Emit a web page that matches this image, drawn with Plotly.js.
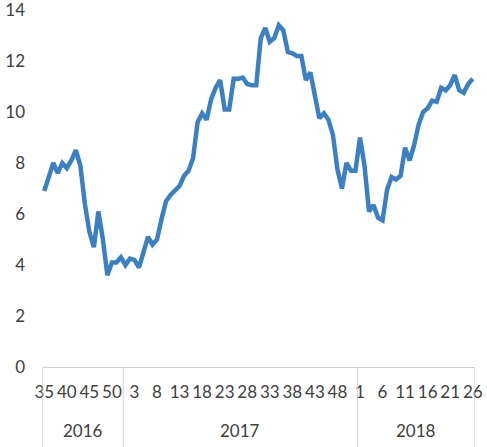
<!DOCTYPE html>
<html>
<head>
<meta charset="utf-8">
<script src="https://cdn.plot.ly/plotly-3.0.1.min.js"></script>
<style>html,body{margin:0;padding:0;background:#fff;}#chart{width:487px;height:447px;}</style>
</head>
<body>
<div id="chart"></div>
<script>
var years = ["2016", "2017", "2018"];
var weeks2016 = [35,36,37,38,39,40,41,42,43,44,45,46,47,48,49,50,51,52];
var values2016 = [6.9,7.5,8.0,7.6,8.0,7.8,8.1,8.5,7.9,6.4,5.3,4.7,6.1,5.0,3.6,4.1,4.1,4.3];
var weeks2017 = [1,2,3,4,5,6,7,8,9,10,11,12,13,14,15,16,17,18,19,20,21,22,23,24,25,26,27,28,29,30,31,32,33,34,35,36,37,38,39,40,41,42,43,44,45,46,47,48,49,50,51,52];
var values2017 = [4.0,4.25,4.2,3.9,4.5,5.1,4.8,5.0,5.8,6.5,6.75,6.95,7.1,7.5,7.7,8.2,9.6,9.95,9.7,10.5,10.95,11.25,10.1,10.1,11.3,11.3,11.35,11.1,11.05,11.05,12.9,13.3,12.75,12.9,13.4,13.2,12.35,12.3,12.2,12.2,11.25,11.55,10.65,9.75,9.95,9.7,9.1,7.75,7.0,8.0,7.7,7.7];
var weeks2018 = [1,2,3,4,5,6,7,8,9,10,11,12,13,14,15,16,17,18,19,20,21,22,23,24,25,26];
var values2018 = [9.0,7.9,6.1,6.35,5.85,5.75,6.95,7.45,7.35,7.5,8.6,8.1,8.7,9.5,10.0,10.15,10.45,10.4,10.95,10.85,11.05,11.45,10.85,10.75,11.1,11.3];
var yTicks = [0,2,4,6,8,10,12,14];
var labelStep = 5;

var groups = [weeks2016, weeks2017, weeks2018];
var vals = [values2016, values2017, values2018];
var allWeeks = [], allVals = [];
groups.forEach(function(g, k){ g.forEach(function(w, j){ allWeeks.push(w); allVals.push(vals[k][j]); }); });
var xs = allWeeks.map(function(_, i){ return i; });
var tickvals = [], ticktext = [];
for (var i = 0; i < allWeeks.length; i += labelStep) { tickvals.push(i); ticktext.push(String(allWeeks[i])); }

var plotH = 447 - 10 - 80;
var shapes = [], annotations = [];
var start = 0;
var boundaries = [-0.5];
groups.forEach(function(g, k){
  var end = start + g.length;
  boundaries.push(end - 0.5);
  annotations.push({x: (start + end - 1) / 2, y: -63 / plotH, xref: 'x', yref: 'paper', text: years[k], showarrow: false,
    font: {family: 'Lato, "Open Sans", sans-serif', size: 17, color: '#404040'}, xanchor: 'center', yanchor: 'middle'});
  start = end;
});
boundaries.forEach(function(b){
  shapes.push({type: 'line', xref: 'x', yref: 'paper', x0: b, x1: b, y0: 0, y1: -80 / plotH, line: {color: '#d0d0d0', width: 1}});
});

var trace = {x: xs, y: allVals, type: 'scatter', mode: 'lines', line: {color: '#3A80C3', width: 4.5, shape: 'linear'}, hoverinfo: 'skip', cliponaxis: false};

var layout = {
  width: 487, height: 447,
  margin: {l: 42, r: 12, t: 10, b: 80},
  paper_bgcolor: '#fff', plot_bgcolor: '#fff',
  showlegend: false,
  font: {family: 'Lato, "Open Sans", sans-serif', size: 17, color: '#404040'},
  xaxis: {range: [-0.5, allWeeks.length - 0.5], tickmode: 'array', tickvals: tickvals, ticktext: ticktext,
    showgrid: false, zeroline: false, showline: true, linecolor: '#d0d0d0', linewidth: 1,
    ticks: '', tickangle: 0, ticklabelstandoff: 10, tickfont: {size: 17, color: '#404040'}, fixedrange: true},
  yaxis: {range: [0, 14], tickmode: 'array', tickvals: yTicks, ticktext: yTicks.map(String), showgrid: false, zeroline: false, showline: false,
    ticks: '', ticklabelstandoff: 16, ticklabeloverflow: 'allow', tickfont: {size: 17, color: '#404040'}, fixedrange: true},
  shapes: shapes,
  annotations: annotations
};
Plotly.newPlot('chart', [trace], layout, {displayModeBar: false, staticPlot: true});
</script>
</body>
</html>
